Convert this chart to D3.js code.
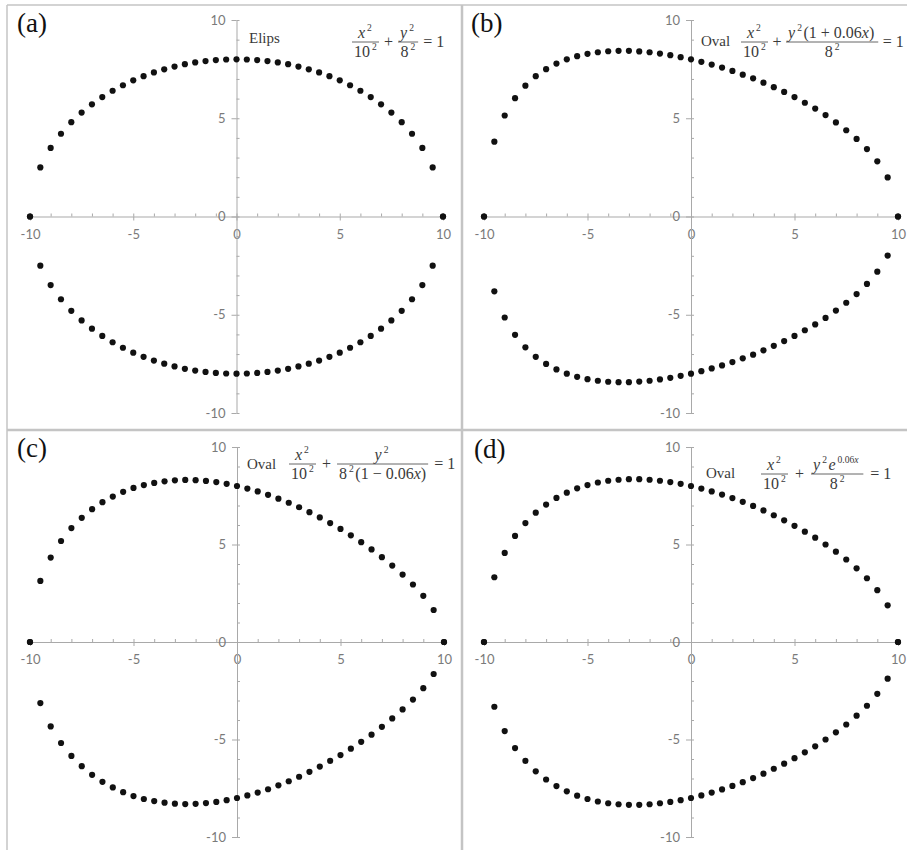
<!DOCTYPE html>
<html>
<head>
<meta charset="utf-8">
<script src="https://cdn.jsdelivr.net/npm/d3@7"></script>
<style>
  body { margin: 0; background: #fff; }
  svg { display: block; }
  .axis text { font-family: Lato, "Open Sans", sans-serif; font-size: 13px; fill: #7a7a7a; }
  .axis path, .axis line { stroke: #a9a9a9; stroke-width: 1; }
  .tag { font-family: "Liberation Serif", "Times New Roman", serif; font-size: 27px; fill: #111; }
  .eq { font-family: "Liberation Serif", "Times New Roman", serif; fill: #3a3a3a; }
</style>
</head>
<body>
<svg id="chart" width="907" height="850"></svg>
<script>
// Sample abscissae shared by all four curves
const xs = [-10, -9.5, -9, -8.5, -8, -7.5, -7, -6.5, -6, -5.5, -5, -4.5, -4, -3.5, -3, -2.5, -2, -1.5, -1, -0.5,
            0, 0.5, 1, 1.5, 2, 2.5, 3, 3.5, 4, 4.5, 5, 5.5, 6, 6.5, 7, 7.5, 8, 8.5, 9, 9.5, 10];

// Upper-half ordinates of each curve (the lower half is the mirror image, -y)
const yElips = [0, 2.50, 3.49, 4.21, 4.80, 5.29, 5.71, 6.08, 6.40, 6.68, 6.93, 7.14, 7.33, 7.49, 7.63, 7.75, 7.84, 7.91, 7.96, 7.99,
                8.00, 7.99, 7.96, 7.91, 7.84, 7.75, 7.63, 7.49, 7.33, 7.14, 6.93, 6.68, 6.40, 6.08, 5.71, 5.29, 4.80, 4.21, 3.49, 2.50, 0];
const yOvalB = [0, 3.81, 5.14, 6.02, 6.66, 7.14, 7.50, 7.78, 8.00, 8.16, 8.28, 8.36, 8.41, 8.43, 8.43, 8.40, 8.36, 8.29, 8.21, 8.11,
                8.00, 7.87, 7.73, 7.58, 7.41, 7.22, 7.03, 6.81, 6.58, 6.34, 6.08, 5.79, 5.49, 5.16, 4.79, 4.39, 3.95, 3.43, 2.81, 1.99, 0];
const yOvalC = [0, 3.13, 4.33, 5.18, 5.84, 6.37, 6.81, 7.17, 7.46, 7.70, 7.90, 8.05, 8.16, 8.24, 8.29, 8.31, 8.30, 8.26, 8.20, 8.11,
                8.00, 7.87, 7.72, 7.55, 7.35, 7.14, 6.91, 6.66, 6.39, 6.10, 5.80, 5.47, 5.12, 4.75, 4.35, 3.92, 3.46, 2.95, 2.37, 1.64, 0];
const yOvalD = [0, 3.32, 4.57, 5.44, 6.10, 6.63, 7.05, 7.39, 7.66, 7.88, 8.05, 8.18, 8.27, 8.32, 8.35, 8.35, 8.32, 8.27, 8.20, 8.11,
                8.00, 7.87, 7.72, 7.56, 7.38, 7.19, 6.98, 6.75, 6.50, 6.24, 5.96, 5.66, 5.35, 5.00, 4.63, 4.23, 3.78, 3.27, 2.66, 1.88, 0];

// Axis ticks
const majorTicks = [-10, -5, 0, 5, 10];
const minorTicks = [-10, -9, -8, -7, -6, -5, -4, -3, -2, -1, 0, 1, 2, 3, 4, 5, 6, 7, 8, 9, 10];

// Panel captions
const panelTags = ["(a)", "(b)", "(c)", "(d)"];
const curveNames = ["Elips", "Oval", "Oval", "Oval"];

// Equation pieces: [text, style]  style: r roman, i italic, s superscript, si italic superscript
const sq = (v, st) => [[v, st], ["2", "s"]];
const equations = [
  [ { frac: [sq("x", "i"), sq("10", "r")] }, { txt: [["+", "r"]] },
    { frac: [sq("y", "i"), sq("8", "r")] }, { txt: [["= 1", "r"]] } ],
  [ { frac: [sq("x", "i"), sq("10", "r")] }, { txt: [["+", "r"]] },
    { frac: [[["y", "i"], ["2", "s"], ["(1 + 0.06", "r"], ["x", "i"], [")", "r"]], sq("8", "r")] }, { txt: [["= 1", "r"]] } ],
  [ { frac: [sq("x", "i"), sq("10", "r")] }, { txt: [["+", "r"]] },
    { frac: [sq("y", "i"), [["8", "r"], ["2", "s"], ["(1 \u2212 0.06", "r"], ["x", "i"], [")", "r"]]] }, { txt: [["= 1", "r"]] } ],
  [ { frac: [sq("x", "i"), sq("10", "r")] }, { txt: [["+", "r"]] },
    { frac: [[["y", "i"], ["2", "s"], ["e", "i"], ["0.06", "s"], ["x", "si"]], sq("8", "r")] }, { txt: [["= 1", "r"]] } ]
];

const svg = d3.select("#chart");

// Panel frame and separators
const frame = svg.append("g").attr("stroke", "#c4c4c4").attr("fill", "none");
frame.append("line").attr("x1", 7).attr("y1", 5).attr("x2", 907).attr("y2", 5).attr("stroke-width", 1.5);
frame.append("line").attr("x1", 7).attr("y1", 5).attr("x2", 7).attr("y2", 850).attr("stroke-width", 1.5);
frame.append("line").attr("x1", 7).attr("y1", 430).attr("x2", 907).attr("y2", 430).attr("stroke-width", 2.5);
frame.append("line").attr("x1", 462).attr("y1", 5).attr("x2", 462).attr("y2", 850).attr("stroke-width", 2.5);

const panels = [
  { ys: yElips, xr: [30, 443], yr: [413, 20],  tag: [17, 32],  name: [249, 43],  eqX: 352, eqY: 42,  fs: 16, gap: 5 },
  { ys: yOvalB, xr: [484, 898], yr: [413, 20], tag: [471, 32], name: [701, 46],  eqX: 741, eqY: 42,  fs: 16, gap: 4.5 },
  { ys: yOvalC, xr: [30, 444], yr: [837, 447], tag: [17, 457], name: [247, 469], eqX: 289, eqY: 464, fs: 16, gap: 6 },
  { ys: yOvalD, xr: [484, 898], yr: [837, 447], tag: [474, 458], name: [706, 478], eqX: 761, eqY: 474, fs: 16, gap: 7 }
];

// Integer tick labels written with a plain hyphen
const fmt = d => String(d);

function runText(g, runs, fs) {
  const t = g.append("text").attr("class", "eq").attr("font-size", fs);
  let shift = 0;
  runs.forEach(([str, st]) => {
    const sup = st === "s" || st === "si";
    const target = sup ? -0.42 * fs : 0;
    const ts = t.append("tspan").text(str).attr("dy", target - shift);
    if (sup && shift === 0) ts.attr("dx", 2);
    if (!sup && shift !== 0) ts.attr("dx", 1.5);
    shift = target;
    if (sup) ts.attr("font-size", 0.6 * fs);
    if (st === "i" || st === "si") ts.attr("font-style", "italic");
  });
  return t;
}

function textWidth(t) {
  return t.node().getBBox().width;
}

function drawEquation(g, x, yMid, fs, gap, items) {
  let cx = x;
  items.forEach(it => {
    if (it.frac) {
      const num = runText(g, it.frac[0], fs);
      const den = runText(g, it.frac[1], fs);
      num.attr("x", 0).attr("y", 0);
      den.attr("x", 0).attr("y", 0);
      const wn = textWidth(num);
      const wd = textWidth(den);
      const w = Math.max(wn, wd) + 4;
      num.attr("x", cx + (w - wn) / 2).attr("y", yMid - 4);
      den.attr("x", cx + (w - wd) / 2).attr("y", yMid + fs * 0.92);
      g.append("line").attr("x1", cx).attr("x2", cx + w).attr("y1", yMid).attr("y2", yMid)
        .attr("stroke", "#555").attr("stroke-width", 0.9);
      cx += w + gap;
    } else {
      const t = runText(g, it.txt, fs);
      t.attr("x", cx).attr("y", yMid + fs * 0.32);
      cx += textWidth(t) + gap;
    }
  });
}

panels.forEach((p, i) => {
  const g = svg.append("g");
  const x = d3.scaleLinear().domain([-10, 10]).range(p.xr);
  const y = d3.scaleLinear().domain([-10, 10]).range(p.yr);

  // Horizontal axis: labelled major ticks below, minor ticks above
  g.append("g").attr("class", "axis").attr("transform", `translate(0,${y(0)})`)
    .call(d3.axisBottom(x).tickValues(majorTicks).tickSize(4).tickSizeOuter(0).tickPadding(9).tickFormat(fmt));
  g.append("g").attr("class", "axis").attr("transform", `translate(0,${y(0)})`)
    .call(d3.axisTop(x).tickValues(minorTicks).tickSize(3).tickSizeOuter(0).tickFormat(""))
    .select(".domain").remove();

  // Vertical axis: labelled major ticks on the left, minor ticks on the right
  g.append("g").attr("class", "axis").attr("transform", `translate(${x(0)},0)`)
    .call(d3.axisLeft(y).tickValues(majorTicks).tickSize(5).tickSizeOuter(0).tickPadding(6).tickFormat(fmt));
  g.append("g").attr("class", "axis").attr("transform", `translate(${x(0)},0)`)
    .call(d3.axisRight(y).tickValues(minorTicks).tickSize(3).tickSizeOuter(0).tickFormat(""))
    .select(".domain").remove();

  // Curve points, upper and lower halves
  const pts = xs.flatMap((xv, k) => [[xv, p.ys[k]], [xv, -p.ys[k]]]);
  g.append("g").selectAll("circle").data(pts).join("circle")
    .attr("cx", d => x(d[0])).attr("cy", d => y(d[1])).attr("r", 3.1).attr("fill", "#111");

  // Captions
  g.append("text").attr("class", "tag").attr("x", p.tag[0]).attr("y", p.tag[1]).text(panelTags[i]);
  g.append("text").attr("class", "eq").attr("font-size", 15).attr("x", p.name[0]).attr("y", p.name[1]).text(curveNames[i]);
  drawEquation(g, p.eqX, p.eqY, p.fs, p.gap, equations[i]);
});
</script>
</body>
</html>
